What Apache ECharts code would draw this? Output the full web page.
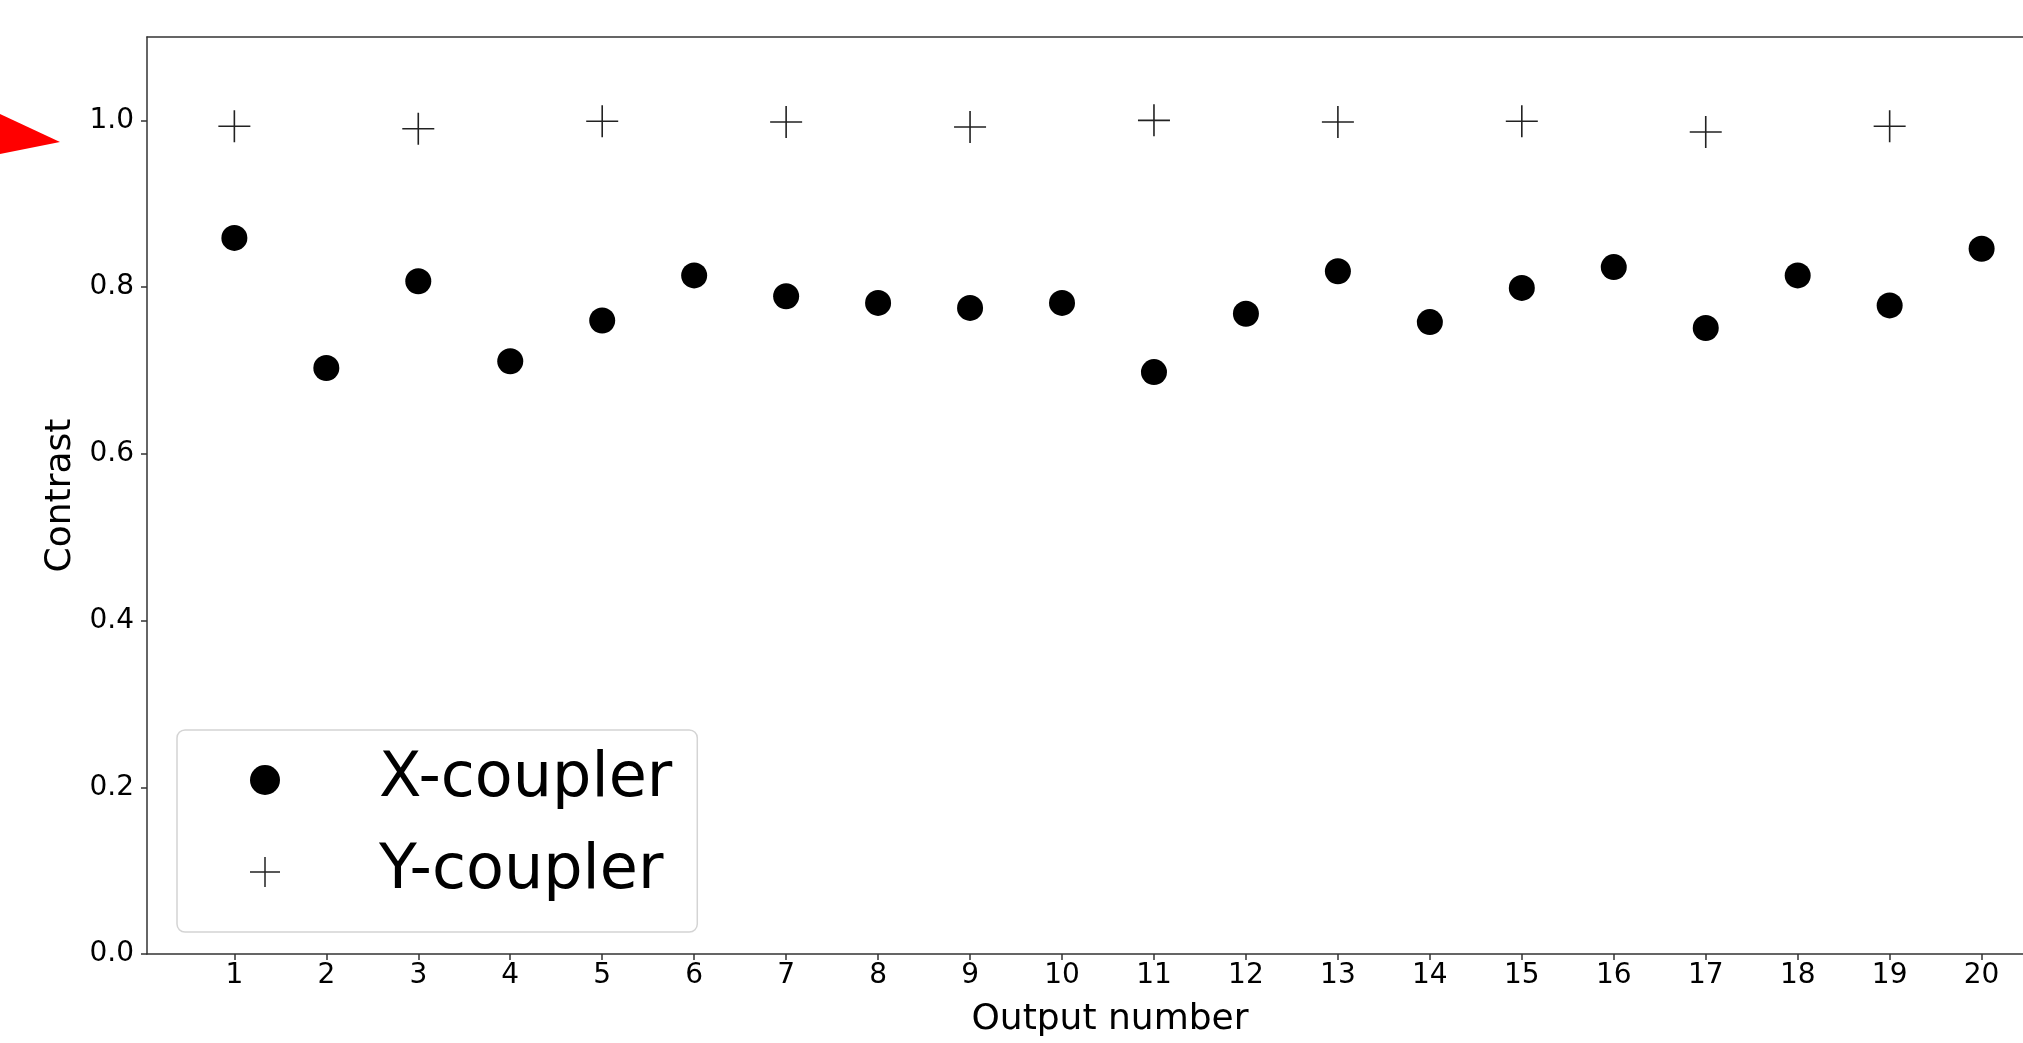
<!DOCTYPE html>
<html>
<head>
<meta charset="utf-8">
<title>Contrast</title>
<script src="https://cdn.jsdelivr.net/npm/echarts@6/dist/echarts.min.js"></script>
<style>
  html, body { margin: 0; padding: 0; background: #fff; }
  #chart { width: 2023px; height: 1043px; }
</style>
</head>
<body>
<div id="chart"></div>
<script>
// 数据
var outputNumbers = [1, 2, 3, 4, 5, 6, 7, 8, 9, 10, 11, 12, 13, 14, 15, 16, 17, 18, 19, 20];
var xCoupler = [0.859, 0.703, 0.807, 0.711, 0.760, 0.814, 0.789, 0.781, 0.775, 0.781,
                0.698, 0.768, 0.819, 0.758, 0.799, 0.824, 0.751, 0.814, 0.778, 0.846];
var yOutputs = [1, 3, 5, 7, 9, 11, 13, 15, 17, 19];
var yCoupler = [0.993, 0.990, 0.999, 0.998, 0.992, 1.000, 0.998, 0.999, 0.986, 0.993];
var yTicks = [0, 0.2, 0.4, 0.6, 0.8, 1.0];

var font = 'DejaVu Sans';
var spine = '#333';
// 细的加号
var plus = 'path://M0,15.2H32V16.8H0Z M15.2,0H16.8V32H15.2Z';

var chart = echarts.init(document.getElementById('chart'));

var option = {
    animation: false,
    backgroundColor: '#fff',
    grid: { left: 147, top: 37, right: 0, bottom: 80 },
    legend: {
        orient: 'vertical',
        left: 177,
        top: 730,
        padding: [9, 25, 19, 73],
        itemWidth: 30,
        itemHeight: 30,
        itemGap: 10,
        borderColor: '#d4d4d4',
        borderWidth: 1.5,
        borderRadius: 8,
        backgroundColor: 'rgba(255,255,255,0.8)',
        textStyle: { fontFamily: font, fontSize: 62, color: '#000', lineHeight: 62, padding: [20, 0, 0, 94] },
        data: [
            { name: 'X-coupler', icon: 'circle' },
            { name: 'Y-coupler', icon: plus }
        ]
    },
    xAxis: [{
        type: 'value',
        min: 0.05,
        max: 20.45,
        name: 'Output number',
        nameLocation: 'middle',
        nameGap: 48,
        nameTextStyle: { fontFamily: font, fontSize: 36, color: '#000', padding: [0, 0, 0, 50] },
        splitLine: { show: false },
        axisLine: { lineStyle: { color: spine, width: 1.5 } },
        axisTick: { length: 6, lineStyle: { color: spine, width: 1.5 }, customValues: outputNumbers },
        axisLabel: { fontFamily: font, fontSize: 28, color: '#000', margin: 8, customValues: outputNumbers }
    }, {
        // 上边框
        type: 'value',
        position: 'top',
        min: 0.05,
        max: 20.45,
        splitLine: { show: false },
        axisLine: { lineStyle: { color: spine, width: 1.5 } },
        axisTick: { show: false },
        axisLabel: { show: false }
    }],
    yAxis: {
        type: 'value',
        min: 0,
        max: 1.1,
        name: 'Contrast',
        nameLocation: 'middle',
        nameGap: 68,
        nameTextStyle: { fontFamily: font, fontSize: 36, color: '#000' },
        splitLine: { show: false },
        axisLine: { show: true, lineStyle: { color: spine, width: 1.5 } },
        axisTick: { show: true, length: 6, lineStyle: { color: spine, width: 1.5 }, customValues: yTicks },
        axisLabel: {
            fontFamily: font, fontSize: 28, color: '#000', margin: 13, customValues: yTicks,
            formatter: function (v) { return v.toFixed(1); }
        }
    },
    series: [{
        name: 'X-coupler',
        type: 'scatter',
        symbol: 'circle',
        symbolSize: 26,
        itemStyle: { color: '#000', opacity: 1 },
        data: outputNumbers.map(function (n, i) { return [n, xCoupler[i]]; })
    }, {
        name: 'Y-coupler',
        type: 'scatter',
        symbol: plus,
        symbolSize: 32,
        itemStyle: { color: '#222', opacity: 1 },
        data: yOutputs.map(function (n, i) { return [n, yCoupler[i]]; })
    }],
    // 左边的红色箭头
    graphic: [{
        type: 'polygon',
        shape: { points: [[0, 114], [60, 142], [0, 154]] },
        style: { fill: '#ff0000' }
    }]
};

chart.setOption(option);
</script>
</body>
</html>
